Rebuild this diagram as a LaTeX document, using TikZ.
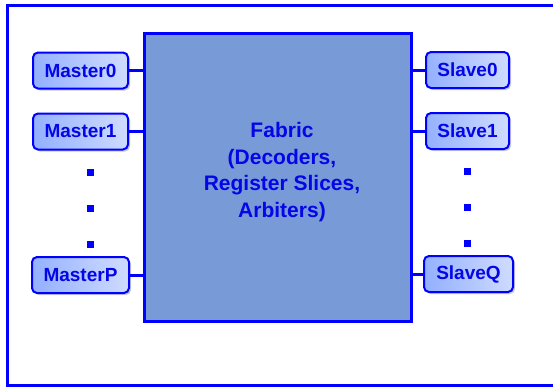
\documentclass[tikz,border=0pt]{standalone}
\usepackage{fontspec}
\setmainfont{Liberation Sans}
\usetikzlibrary{shadows,calc}
\definecolor{frameblue}{RGB}{0,0,255}
\definecolor{textblue}{RGB}{5,5,230}
\definecolor{fabricfill}{RGB}{120,155,216}
\definecolor{portL}{RGB}{150,178,255}
\definecolor{portR}{RGB}{205,218,255}
\tikzset{
  port/.style={draw=frameblue, line width=2pt, rounded corners=5pt,
    left color=portL, right color=portR, shading angle=100,
    minimum height=36pt, inner sep=0pt,
    font=\fontsize{19}{20}\selectfont\bfseries, text=textblue,
    drop shadow={shadow xshift=2pt, shadow yshift=-2pt, opacity=0.35, fill=black!60}},
  fabricbox/.style={draw=frameblue, line width=3pt, fill=fabricfill,
    minimum width=266.5pt, minimum height=288pt, inner sep=0pt},
  link/.style={draw=frameblue, line width=3pt},
  vdot/.style={fill=frameblue, minimum size=7pt, inner sep=0pt}
}
\begin{document}
\begin{tikzpicture}[x=1pt,y=-1pt]
\useasboundingbox (0,0) rectangle (553,388);
\fill[white] (0,0) rectangle (553,388);
% outer frame, open on the right
\draw[frameblue, line width=3.5pt] (556,5.5) -- (7.5,5.5) -- (7.5,385.5) -- (556,385.5);
% central fabric
\node[fabricbox] (fab) at (277.75,177.75) {};
\node[align=center, text=textblue, font=\fontsize{21}{26.5}\selectfont\bfseries] (fabtxt) at (282,172)
  {Fabric\\(Decoders,\\Register Slices,\\Arbiters)};
% masters
\node[port, minimum width=95pt] (m0) at (80.5,70.5) {Master0};
\node[port, minimum width=95pt] (m1) at (80.5,131.5) {Master1};
\node[port, minimum width=97pt] (mp) at (80.5,275) {MasterP};
% slaves
\node[port, minimum width=83pt] (s0) at (467.5,70) {Slave0};
\node[port, minimum width=83pt] (s1) at (467.5,131) {Slave1};
\node[port, minimum width=89pt] (sq) at (468.5,274) {SlaveQ};
% links to the fabric
\draw[link] (m0.east) -- (m0.east -| fab.west);
\draw[link] (m1.east) -- (m1.east -| fab.west);
\draw[link] (mp.east) -- (mp.east -| fab.west);
\draw[link] (s0.west) -- (s0.west -| fab.east);
\draw[link] (s1.west) -- (s1.west -| fab.east);
\draw[link] (sq.west) -- (sq.west -| fab.east);
% ellipsis dots
\node[vdot] (ld1) at (90,172) {};
\node[vdot] (ld2) at (90,208) {};
\node[vdot] (ld3) at (90,244) {};
\node[vdot] (rd1) at (467,171) {};
\node[vdot] (rd2) at (467,207) {};
\node[vdot] (rd3) at (467,243) {};
\end{tikzpicture}
\end{document}
